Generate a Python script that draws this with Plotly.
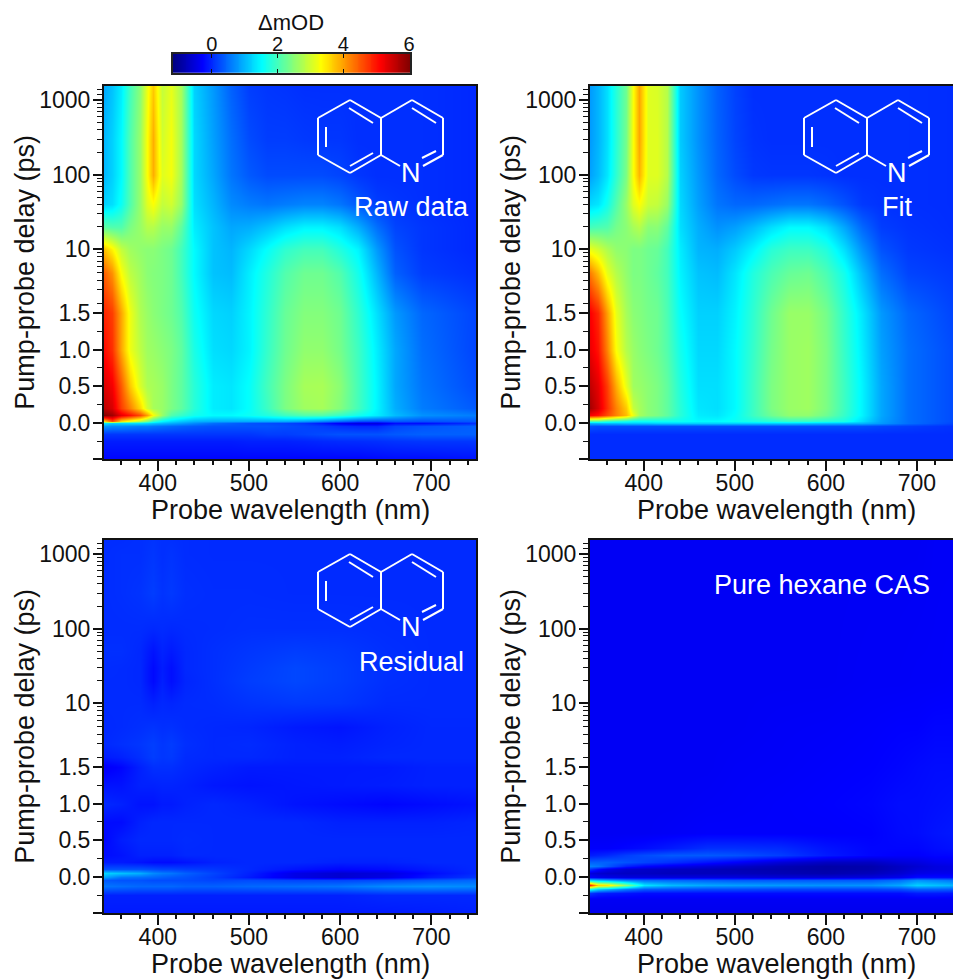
import numpy as np
import plotly.graph_objects as go

W, H = 953, 980
FONT = "Liberation Sans"

# ---------- shared axis values ----------
wl_main = [340,350,360,370,380,388,395,405,415,425,440,460,480,500,520,540,560,580,600,620,640,660,690,749]
delay_main = [-0.5,-0.25,-0.15,-0.05,0,0.03,0.1,0.2,0.5,1,1.5,5,10,20,40,100,300,1575]

z_raw = [
[-.25,-.25,-.25,-.25,-.25,-.25,-.25,-.25,-.25,-.25,-.25,-.25,-.25,-.25,-.25,-.25,-.25,-.25,-.25,-.25,-.22,-.2,-.2,-.15],
[-.08,-.08,-.08,-.08,-.08,-.08,-.08,-.08,-.08,-.08,-.08,-.08,-.08,-.05,-.05,-.05,-.03,0,.02,.03,.05,.08,.1,.1],
[.1,.1,.1,.1,.1,.1,.1,.1,.1,.1,.1,.1,.1,.1,.15,.15,.2,.25,.3,.3,.3,.35,.4,.4],
[.8,.7,.7,.65,.6,.6,.55,.5,.45,.4,.35,.3,.3,.3,.3,.25,.2,.15,.05,0,0,.2,.3,.4],
[1.4,1.2,1.25,1.3,1.3,1.25,1.15,1.05,.95,.85,.7,.5,.4,.3,.25,.2,.1,-.1,-.35,-.5,-.5,-.2,-.2,.05],
[3.5,4.6,3.6,3.2,2.8,2.4,1.9,1.5,1.3,1.15,1.0,.95,.95,.95,.95,.95,.85,.7,.5,.3,.25,.35,.3,.35],
[6.0,5.8,5.3,5.0,4.6,4.0,3.3,2.6,2.1,1.9,1.65,1.5,1.5,1.6,1.75,1.95,2.1,2.1,1.9,1.65,1.4,1.05,.75,.6],
[5.6,5.4,4.7,4.2,3.6,3.0,2.7,2.6,2.4,2.2,1.8,1.4,1.35,1.55,1.95,2.4,2.65,2.7,2.45,2.0,1.45,.95,.6,.35],
[5.4,5.2,4.5,3.7,3.05,2.75,2.7,2.6,2.4,2.2,1.8,1.4,1.35,1.55,2.0,2.4,2.7,2.72,2.5,2.0,1.45,.9,.55,.25],
[5.1,4.8,3.95,3.2,2.85,2.65,2.6,2.5,2.4,2.2,1.7,1.3,1.25,1.45,1.9,2.3,2.55,2.55,2.35,1.95,1.4,.9,.5,.2],
[4.9,4.7,3.95,3.2,2.75,2.6,2.5,2.4,2.3,2.1,1.6,1.25,1.2,1.45,1.85,2.25,2.45,2.45,2.3,1.85,1.3,.8,.45,.2],
[4.5,4.1,3.3,2.85,2.65,2.5,2.45,2.4,2.3,2.0,1.5,1.1,1.05,1.4,1.75,2.1,2.3,2.3,2.1,1.65,1.0,.4,.15,.05],
[3.8,3.4,2.9,2.65,2.55,2.5,2.5,2.4,2.3,2.0,1.5,1.1,1.0,1.25,1.55,1.85,2.0,2.0,1.75,1.45,.8,.3,.1,0],
[2.2,2.1,2.1,2.4,2.6,2.8,2.8,2.6,2.6,2.2,1.4,1.1,.9,.95,1.1,1.3,1.45,1.45,1.3,.95,.5,.2,.1,0],
[1.2,1.3,1.6,2.1,2.6,3.1,3.3,2.9,3.0,2.6,1.3,1.0,.7,.6,.55,.6,.65,.65,.55,.35,.15,.1,.05,0],
[1.0,1.2,1.5,2.1,2.6,3.3,3.9,3.1,3.25,2.7,1.25,.9,.55,.35,.25,.25,.25,.25,.2,.1,.05,.05,.05,0],
[1.0,1.2,1.5,2.1,2.6,3.3,3.9,3.0,3.25,2.7,1.25,.85,.5,.25,.15,.15,.12,.1,.1,.05,.05,.05,.05,0],
[.9,1.1,1.4,2.0,2.5,3.2,3.7,2.9,3.15,2.7,1.2,.8,.4,.15,.1,.08,.05,.05,.05,.05,.05,.05,.05,0],
]

z_fit = [
[.03,.03,.03,.03,.03,.03,.03,.03,.03,.03,.03,.03,.03,.03,.03,.03,.03,.03,.03,.03,.03,.03,.03,.03],
[.03,.03,.03,.03,.03,.03,.03,.03,.03,.03,.03,.03,.03,.03,.03,.03,.03,.03,.03,.03,.03,.03,.03,.03],
[.03,.03,.03,.03,.03,.03,.03,.03,.03,.03,.03,.03,.03,.03,.03,.03,.03,.03,.03,.03,.03,.03,.03,.03],
[.3,.25,.25,.25,.25,.25,.25,.25,.25,.25,.25,.25,.25,.25,.25,.25,.25,.25,.25,.25,.25,.2,.15,.05],
[1.0,1.05,1.1,1.1,1.15,1.15,1.15,1.15,1.2,1.2,1.2,1.2,1.2,1.2,1.2,1.2,1.2,1.15,1.1,1.05,1.0,.8,.5,.15],
[2.1,2.1,1.9,1.8,1.7,1.6,1.6,1.6,1.6,1.6,1.6,1.5,1.5,1.6,1.7,1.8,1.9,1.9,1.8,1.7,1.3,.85,.5,.2],
[5.2,5.0,4.6,4.2,3.8,3.2,2.7,2.5,2.4,2.2,1.8,1.4,1.35,1.55,1.95,2.3,2.55,2.55,2.3,1.9,1.45,.9,.5,.2],
[5.8,5.4,4.8,4.2,3.7,2.9,2.7,2.5,2.4,2.2,1.8,1.35,1.3,1.5,1.95,2.4,2.6,2.65,2.4,1.95,1.45,.9,.5,.2],
[5.6,5.3,4.7,3.9,3.15,2.65,2.6,2.5,2.4,2.2,1.75,1.3,1.3,1.5,1.95,2.4,2.6,2.65,2.4,1.95,1.45,.9,.5,.2],
[5.3,5.0,4.2,3.3,2.8,2.6,2.5,2.4,2.3,2.1,1.65,1.25,1.25,1.5,1.9,2.35,2.6,2.65,2.4,1.9,1.4,.85,.5,.2],
[5.2,4.85,4.0,3.15,2.7,2.5,2.45,2.35,2.3,2.05,1.55,1.2,1.2,1.45,1.85,2.3,2.6,2.6,2.35,1.85,1.35,.8,.45,.15],
[4.3,3.8,3.15,2.8,2.55,2.4,2.4,2.3,2.2,2.0,1.45,1.1,1.05,1.35,1.75,2.05,2.25,2.3,2.05,1.65,1.05,.5,.2,.1],
[3.2,3.0,2.75,2.55,2.5,2.4,2.4,2.3,2.25,2.0,1.4,1.0,.95,1.15,1.45,1.8,1.95,1.95,1.75,1.3,.75,.3,.12,.05],
[2.0,2.05,2.1,2.35,2.5,2.7,2.8,2.5,2.5,2.2,1.3,.95,.75,.85,1.05,1.3,1.5,1.5,1.3,.9,.45,.15,.08,.03],
[1.25,1.35,1.65,2.1,2.6,3.1,3.3,2.95,2.9,2.6,1.25,.85,.55,.45,.45,.5,.55,.55,.45,.3,.12,.07,.05,.03],
[.85,1.05,1.35,1.85,2.4,3.3,3.85,3.1,3.1,2.8,1.2,.8,.45,.25,.12,.1,.1,.1,.08,.05,.05,.05,.05,.03],
[.8,1.0,1.3,1.8,2.35,3.3,3.95,3.1,3.1,2.8,1.15,.75,.42,.2,.08,.05,.05,.05,.05,.05,.05,.05,.05,.03],
[.8,1.0,1.3,1.8,2.3,3.3,3.95,3.1,3.05,2.8,1.15,.75,.4,.18,.05,.05,.05,.05,.05,.05,.05,.05,.05,.03],
]

wl_resid = [340,360,380,395,405,415,430,460,500,550,600,650,700,749]
delay_resid = [-0.5,-0.25,-0.12,-0.05,0,0.05,0.1,0.2,0.3,0.5,0.75,1,1.25,1.5,2,3,5,10,20,30,50,100,300,1000,1575]
z_resid = [
[-.1,-.1,-.1,-.1,-.1,-.1,-.1,-.1,-.1,-.1,-.1,-.1,-.08,-.05],
[-.05,-.05,-.05,-.05,-.05,-.05,-.05,-.05,-.05,-.05,-.05,0,0,0],
[.55,.5,.45,.45,.45,.45,.4,.4,.45,.5,.55,.7,.75,.7],
[.35,.3,.3,.25,.25,.25,.25,.2,.25,.2,.2,.25,.35,.45],
[.9,.55,.5,.45,.4,.35,.3,.15,-.1,-.45,-.6,-.45,-.1,.1],
[1.25,1.1,.95,.7,.6,.55,.4,.2,-.05,-.45,-.6,-.5,-.2,0],
[.3,.3,.3,.25,.2,.2,.15,.1,0,-.15,-.25,-.2,-.1,0],
[-.1,-.1,-.15,-.2,-.2,-.2,-.15,-.05,0,0,-.05,-.05,0,0],
[-.2,-.15,-.05,-.05,-.05,-.05,0,0,0,0,0,0,0,0],
[-.25,-.08,0,0,0,0,.02,0,0,0,0,0,0,0],
[-.2,-.2,-.05,0,0,0,0,0,0,0,-.05,-.05,-.05,-.02],
[0,-.05,-.15,-.15,-.1,-.1,-.05,0,-.05,-.15,-.2,-.25,-.2,-.15],
[-.15,-.15,-.05,-.05,-.03,-.03,-.05,-.12,-.15,-.12,-.1,-.08,-.05,-.05],
[-.35,-.25,-.05,.05,.05,.05,0,-.05,-.1,-.1,-.1,-.1,-.05,-.05],
[-.1,-.05,.05,.15,.1,.12,.02,0,0,-.05,-.05,0,0,0],
[0,.05,.1,.16,.1,.14,.05,0,.02,-.05,-.08,-.03,0,0],
[0,.02,.05,.08,.05,.06,.02,0,-.02,-.1,-.14,-.05,0,0],
[.02,.02,.02,-.05,0,-.02,.02,.03,.08,.12,.1,.02,.02,.02],
[.02,.02,0,-.22,-.06,-.18,-.02,.05,.15,.22,.15,.05,.02,.02],
[.03,.02,0,-.22,-.08,-.18,0,.05,.13,.22,.15,.05,.02,.02],
[.05,.05,0,-.15,-.04,-.1,0,.05,.1,.15,.12,.05,.02,.02],
[.03,.03,.03,0,.02,0,.02,.03,.05,.05,.05,.03,.02,.02],
[.03,.05,.08,.15,.08,.12,.05,.03,.03,.02,.02,.02,.02,.02],
[.03,.05,.05,.1,.05,.08,.03,.02,.02,.02,.02,.02,.02,.02],
[.03,.03,.05,.08,.05,.05,.03,.02,.02,.02,.02,.02,.02,.02],
]

wl_hex = [340,350,360,380,400,430,470,500,550,600,650,680,700,720,749]
delay_hex = [-0.5,-0.3,-0.22,-0.17,-0.11,-0.05,0,0.05,0.1,0.15,0.2,0.3,0.4,0.6,1,1.5,5,20,1575]
z_hex = [
[-.4,-.4,-.4,-.4,-.4,-.4,-.4,-.4,-.4,-.4,-.4,-.4,-.4,-.4,-.4],
[-.35,-.35,-.35,-.35,-.35,-.35,-.35,-.35,-.35,-.35,-.35,-.35,-.35,-.35,-.35],
[.1,-.05,-.1,-.15,-.2,-.2,-.2,-.2,-.2,-.2,-.2,-.2,-.1,-.1,-.15],
[1.7,1.2,1.0,.6,.35,.3,.25,.25,.2,.2,.2,.25,.4,.4,.35],
[5.0,3.6,3.5,2.5,1.35,1.05,.9,.85,.8,.75,.75,.9,1.2,1.1,.95],
[1.3,1.1,.95,.65,.5,.45,.4,.35,.35,.35,.35,.5,.75,.65,.5],
[-.3,-.4,-.45,-.5,-.5,-.5,-.5,-.5,-.55,-.55,-.5,-.4,-.2,-.2,-.2],
[-.5,-.6,-.65,-.7,-.7,-.75,-.75,-.75,-.8,-.85,-.75,-.6,-.45,-.4,-.4],
[.1,-.2,-.4,-.6,-.65,-.7,-.75,-.8,-.85,-.9,-.85,-.7,-.55,-.5,-.45],
[.65,.55,.35,-.05,-.25,-.4,-.55,-.65,-.8,-.9,-.85,-.7,-.6,-.5,-.45],
[.4,.4,.4,.3,.2,.05,-.15,-.3,-.55,-.7,-.7,-.55,-.5,-.4,-.35],
[-.1,-.05,0,.15,.25,.35,.35,.3,.15,-.1,-.25,-.3,-.3,-.25,-.25],
[-.3,-.3,-.3,-.25,-.2,-.1,.05,.05,.02,-.15,-.25,-.25,-.25,-.2,-.15],
[-.35,-.35,-.35,-.35,-.35,-.33,-.3,-.3,-.3,-.3,-.28,-.22,-.2,-.15,-.1],
[-.35,-.35,-.35,-.35,-.35,-.35,-.33,-.32,-.3,-.28,-.25,-.2,-.2,-.18,-.15],
[-.35,-.35,-.35,-.35,-.35,-.35,-.35,-.33,-.32,-.3,-.28,-.25,-.22,-.2,-.2],
[-.35,-.35,-.35,-.35,-.35,-.35,-.35,-.35,-.33,-.32,-.3,-.28,-.28,-.25,-.25],
[-.35,-.35,-.35,-.35,-.35,-.35,-.35,-.35,-.35,-.35,-.33,-.33,-.32,-.32,-.3],
[-.35,-.35,-.35,-.35,-.35,-.35,-.35,-.35,-.35,-.35,-.35,-.35,-.35,-.33,-.33],
]

panel_labels = ["Raw data", "Fit", "Residual", "Pure hexane CAS"]
x_ticks = [400, 500, 600, 700]
x_minor = [w for w in range(360, 750, 20) if w % 100]
y_major = [-0.5, 0, 0.5, 1.0, 1.5, 10, 100, 1000]
y_text = ["", "0.0", "0.5", "1.0", "1.5", "10", "100", "1000"]
y_minor = [-0.25, 0.25, 0.75, 1.25] + [m * 10 ** e for e in range(0, 3) for m in range(2, 10)] + [1200, 1400]
bar_ticks = [0, 2, 4, 6]
Z_MIN, Z_MAX = -1.18, 6.03

JET = [[0, "#00007f"], [0.125, "#0000ff"], [0.375, "#00ffff"],
       [0.625, "#ffff00"], [0.875, "#ff0000"], [1, "#7f0000"]]


def ypos(d):
    """Axis is linear up to 1.5 ps and logarithmic above it."""
    d = np.asarray(d, dtype=float)
    low = np.minimum(d, 1.5)
    mid = 0.877 * np.log10(np.clip(d, 1.5, 10) / 1.5) / np.log10(10 / 1.5)
    high = 1.02 * np.log10(np.clip(d, 10, None) / 10)
    return low + mid + high


def px(x):
    return x / W


def py(y):
    return 1 - y / H


panels = [
    dict(wl=wl_main, delay=delay_main, z=z_raw, left=104, right=476, top=86, bottom=459.3, xr=[341, 749], dx=0, dy=0),
    dict(wl=wl_main, delay=delay_main, z=z_fit, left=590, right=953, top=86, bottom=459.3, xr=[341, 739.6], dx=486, dy=0),
    dict(wl=wl_resid, delay=delay_resid, z=z_resid, left=104, right=476, top=540, bottom=913.3, xr=[341, 749], dx=0, dy=454),
    dict(wl=wl_hex, delay=delay_hex, z=z_hex, left=590, right=953, top=540, bottom=913.3, xr=[341, 739.6], dx=486, dy=454),
]

fig = go.Figure()
layout = dict(width=W, height=H, autosize=False, margin=dict(l=0, r=0, t=0, b=0, autoexpand=False), plot_bgcolor="white",
              paper_bgcolor="white", showlegend=False, font=dict(family=FONT, color="#111111", size=23))
shapes, annos = [], []

for i, p in enumerate(panels, start=1):
    s = "" if i == 1 else str(i)
    fig.add_trace(go.Heatmap(x=p["wl"], y=ypos(p["delay"]).tolist(), z=p["z"], zmin=Z_MIN, zmax=Z_MAX,
                             colorscale=JET, zsmooth="best", showscale=False,
                             xaxis="x" + s, yaxis="y" + s))
    layout["xaxis" + s] = dict(
        domain=[px(p["left"]), px(p["right"])], range=p["xr"], anchor="y" + s,
        tickmode="array", tickvals=x_ticks, ticks="outside", ticklen=10, tickwidth=1.6, tickcolor="#111",
        minor=dict(tickmode="array", tickvals=x_minor, ticks="outside", ticklen=4, tickwidth=1.6, tickcolor="#111"),
        showline=True, linecolor="#111", linewidth=2, mirror=True, showgrid=False, zeroline=False,
        tickfont=dict(size=23), ticklabelstandoff=-8,
    )
    x_mid = (p["left"] + 372 / 2)
    annos.append(dict(text="Probe wavelength (nm)", x=px(x_mid), y=py(p["bottom"] + 51), xref="paper", yref="paper",
                      showarrow=False, xanchor="center", yanchor="middle", font=dict(size=27)))
    annos.append(dict(text="Pump-probe delay (ps)", x=px(p["left"] - 79), y=py((p["top"] + p["bottom"]) / 2),
                      xref="paper", yref="paper", showarrow=False, xanchor="center", yanchor="middle",
                      textangle=-90, font=dict(size=27)))
    layout["yaxis" + s] = dict(
        domain=[py(p["bottom"]), py(p["top"])], range=[-0.5, 4.61], anchor="x" + s,
        tickmode="array", tickvals=ypos(y_major).tolist(), ticktext=y_text, ticks="outside", ticklen=9,
        tickwidth=1.6, tickcolor="#111",
        minor=dict(tickmode="array", tickvals=ypos(y_minor).tolist(), ticks="outside", ticklen=5, tickwidth=1.2, tickcolor="#111"),
        showline=True, linecolor="#111", linewidth=2, mirror=p["right"] < 953, showgrid=False, zeroline=False,
        tickfont=dict(size=23), ticklabelstandoff=-2,
    )

# colour bar drawn on its own axis so its labels can sit above it
bar_x = np.linspace(Z_MIN, Z_MAX, 256).tolist()
fig.add_trace(go.Heatmap(x=bar_x, y=[0], z=[bar_x], zmin=Z_MIN, zmax=Z_MAX, colorscale=JET, showscale=False,
                         xaxis="x5", yaxis="y5"))
layout["xaxis5"] = dict(domain=[px(173), px(410)], range=[Z_MIN, Z_MAX], anchor="y5", side="top",
                        tickmode="array", tickvals=bar_ticks, ticks="inside", ticklen=4, tickwidth=1.2, tickcolor="#111",
                        showline=True, linecolor="#222", linewidth=1.5, mirror="ticks", showgrid=False, zeroline=False,
                        tickfont=dict(size=20), ticklabelstandoff=-7)
layout["yaxis5"] = dict(domain=[py(72.7), py(54)], range=[-0.5, 0.5], anchor="x5", showticklabels=False, ticks="",
                        showline=True, linecolor="#222", linewidth=1.5, mirror=True, showgrid=False, zeroline=False)
annos.append(dict(text="ΔmOD", x=px(291), y=py(22), xref="paper", yref="paper", showarrow=False,
                  xanchor="center", yanchor="middle", font=dict(size=22)))

# quinoline skeleton (decoration, in pixel offsets from the reference panel)
bonds = [
    (350, 100, 381, 118), (381, 118, 381, 155), (381, 155, 350, 173), (350, 173, 318, 155), (318, 155, 318, 118), (318, 118, 350, 100),
    (381, 118, 412, 100), (412, 100, 443, 118), (443, 118, 443, 155), (443, 155, 423, 166), (381, 155, 400, 166),
    (349, 108, 373, 123), (326, 127, 326, 147), (350, 166, 373, 153), (412, 108, 436, 123), (422, 158, 436, 151),
]
for p, has_mol in zip(panels, [True, True, True, False]):
    if not has_mol:
        continue
    for x0, y0, x1, y1 in bonds:
        shapes.append(dict(type="line", xref="paper", yref="paper", x0=px(x0 + p["dx"]), y0=py(y0 + p["dy"]),
                           x1=px(x1 + p["dx"]), y1=py(y1 + p["dy"]), line=dict(color="white", width=2)))
    annos.append(dict(text="N", x=px(411 + p["dx"]), y=py(173 + p["dy"]), xref="paper", yref="paper", showarrow=False,
                      xanchor="center", yanchor="middle", font=dict(size=27, color="white")))

label_pos = [(411, 207), (897, 207), (411, 662), (822, 585)]
for text, (lx, ly) in zip(panel_labels, label_pos):
    annos.append(dict(text=text, x=px(lx), y=py(ly), xref="paper", yref="paper", showarrow=False,
                      xanchor="center", yanchor="middle", font=dict(size=27, color="white")))

fig.update_layout(**layout, shapes=shapes, annotations=annos)
fig.write_html("out.html", config=dict(displayModeBar=False, responsive=False),
               default_width=f"{W}px", default_height=f"{H}px",
               post_script="document.body.style.margin='0';document.documentElement.style.overflow='hidden';")
